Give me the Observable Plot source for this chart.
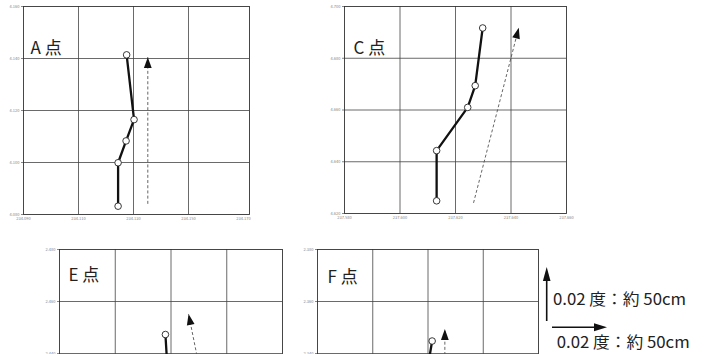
<!DOCTYPE html>
<html>
<head>
<meta charset="utf-8">
<script src="https://cdn.jsdelivr.net/npm/d3@7"></script>
<script src="https://cdn.jsdelivr.net/npm/@observablehq/plot@0.6"></script>
<style>
  html, body { margin: 0; padding: 0; background: #fff; }
  #root { position: relative; width: 706px; height: 354px; overflow: hidden; background: #fff; }
  #root > svg, #root > div { position: absolute; }
</style>
</head>
<body>
<div id="root"></div>
<script>
// ---- Data ----
// Panel A
const aX = [234.1275, 234.1302, 234.1273, 234.1244, 234.1244];
const aY = [4.1414, 4.1165, 4.1083, 4.0999, 4.0832];
const aArrowX = [234.1352, 234.1352];
const aArrowY = [4.0841, 4.1405];
const aXTicks = [234.09, 234.11, 234.13, 234.15, 234.17];
const aYTicks = [4.08, 4.10, 4.12, 4.14, 4.16];
// Panel C
const cX = [237.6298, 237.6271, 237.6244, 237.6132, 237.6132];
const cY = [4.6917, 4.6694, 4.6610, 4.6443, 4.6249];
const cArrowX = [237.6265, 237.6428];
const cArrowY = [4.6241, 4.6918];
const cXTicks = [237.58, 237.60, 237.62, 237.64, 237.66];
const cYTicks = [4.62, 4.64, 4.66, 4.68, 4.70];
// Panel E (lower part lies below the picture)
const eX = [236.3380, 236.3385];
const eY = [2.4473, 2.4383];
const eArrowX = [236.3504, 236.3463];
const eArrowY = [2.4334, 2.4552];
const eXTicks = [236.30, 236.32, 236.34, 236.36, 236.38];
const eYTicks = [2.44, 2.46, 2.48];
// Panel F (lower part lies below the picture)
const fX = [237.0015, 237.0000];
const fY = [2.3448, 2.3353];
const fArrowX = [237.0061, 237.0061];
const fArrowY = [2.3334, 2.3494];
const fXTicks = [236.96, 236.98, 237.00, 237.02, 237.04];
const fYTicks = [2.34, 2.36, 2.38];
// Labels
const panelLabels = ["A 点", "C 点", "E 点", "F 点"];
const legendLabels = ["0.02 度：約 50cm", "0.02 度：約 50cm"];

// ---- Drawing ----
const FONT = "'Noto Sans CJK JP', 'Noto Sans', sans-serif";
const headSymbol = {
  draw(ctx, size) {
    const r = Math.sqrt(size / Math.PI);
    ctx.moveTo(0, 0);
    ctx.lineTo(r, 2.8 * r);
    ctx.lineTo(-r, 2.8 * r);
    ctx.closePath();
  }
};

function panel(o) {
  const fw = o.width - o.ml - o.mr, fh = o.height - o.mt - o.mb;
  const kx = fw / (o.xDomain[1] - o.xDomain[0]);
  const ky = fh / (o.yDomain[1] - o.yDomain[0]);
  const pts = o.xs.map((x, i) => ({x, y: o.ys[i]}));
  const arrow = [{x1: o.ax[0], y1: o.ay[0], x2: o.ax[1], y2: o.ay[1]}];
  const ang = Math.atan2((o.ax[1] - o.ax[0]) * kx, (o.ay[1] - o.ay[0]) * ky) * 180 / Math.PI;
  const xi = o.xTicks.filter(t => t > o.xDomain[0] + 1e-9 && t < o.xDomain[1] - 0.003);
  const yi = o.yTicks.filter(t => t > o.yDomain[0] + 1e-9 && t < o.yDomain[1] - 1e-9);
  const marks = [
    Plot.gridX(xi, {stroke: "#444", strokeOpacity: 1, strokeWidth: 0.8}),
    Plot.gridY(yi, {stroke: "#444", strokeOpacity: 1, strokeWidth: 0.8}),
    Plot.frame({stroke: "#333", strokeWidth: 0.9}),
    Plot.axisY(o.yTicks, {tickFormat: d3.format(".3f"), fontSize: 4, tickSize: 2, tickPadding: 2, color: "#888"}),
    Plot.link(arrow, {x1: "x1", y1: "y1", x2: "x2", y2: "y2", stroke: "#555", strokeWidth: 0.9, strokeDasharray: "3,2.2"}),
    Plot.dot([arrow[0]], {x: "x2", y: "y2", symbol: headSymbol, r: 3.9, fill: "#111", stroke: "none", rotate: ang}),
    Plot.line(pts, {x: "x", y: "y", stroke: "#111", strokeWidth: 2.3}),
    Plot.dot(pts, {x: "x", y: "y", r: 3.3, fill: "white", stroke: "#222", strokeWidth: 0.9}),
    Plot.text([o.label], {frameAnchor: "top-left", dx: o.ldx, dy: o.ldy, text: d => d, textAnchor: "start", lineAnchor: "bottom", fontSize: 17, fill: "#222"})
  ];
  if (o.showX) marks.push(Plot.axisX(o.xTicks, {tickFormat: d3.format(".3f"), fontSize: 4, tickSize: 0, tickPadding: 3, color: "#888"}));
  const svg = Plot.plot({
    width: o.width, height: o.height,
    marginLeft: o.ml, marginRight: o.mr, marginTop: o.mt, marginBottom: o.mb,
    style: {fontFamily: FONT, background: "transparent"},
    x: {domain: o.xDomain, axis: null},
    y: {domain: o.yDomain, axis: null},
    marks
  });
  svg.style.left = o.left + "px";
  svg.style.top = o.top + "px";
  return svg;
}

const root = document.getElementById("root");
const fw55 = (226 / 55) * 0.02;
root.appendChild(panel({
  left: 0, top: 0, width: 262, height: 226, ml: 23, mr: 13, mt: 6, mb: 12,
  xDomain: [234.09, 234.09 + fw55], yDomain: [4.08, 4.16],
  xs: aX, ys: aY, ax: aArrowX, ay: aArrowY, xTicks: aXTicks, yTicks: aYTicks,
  label: panelLabels[0], ldx: 7, ldy: 47, showX: true
}));
root.appendChild(panel({
  left: 300, top: 0, width: 280, height: 226, ml: 44, mr: 14, mt: 6, mb: 13,
  xDomain: [237.58, 237.66], yDomain: [4.62, 4.70],
  xs: cX, ys: cY, ax: cArrowX, ay: cArrowY, xTicks: cXTicks, yTicks: cYTicks,
  label: panelLabels[1], ldx: 9, ldy: 47, showX: true
}));
root.appendChild(panel({
  left: 0, top: 236, width: 290, height: 240, ml: 59, mr: 8, mt: 13, mb: 19,
  xDomain: [236.30, 236.38], yDomain: [2.40, 2.48],
  xs: eX, ys: eY, ax: eArrowX, ay: eArrowY, xTicks: eXTicks, yTicks: eYTicks,
  label: panelLabels[2], ldx: 9, ldy: 31, showX: false
}));
root.appendChild(panel({
  left: 290, top: 236, width: 256, height: 240, ml: 27, mr: 8, mt: 13, mb: 19,
  xDomain: [236.96, 237.04], yDomain: [2.30, 2.38],
  xs: fX, ys: fY, ax: fArrowX, ay: fArrowY, xTicks: fXTicks, yTicks: fYTicks,
  label: panelLabels[3], ldx: 10, ldy: 33, showX: false
}));

// Legend (scale arrows)
const NS = "http://www.w3.org/2000/svg";
const leg = document.createElementNS(NS, "svg");
leg.setAttribute("width", 160); leg.setAttribute("height", 94);
leg.style.left = "540px"; leg.style.top = "260px";
leg.innerHTML = `
  <line x1="6.7" y1="61" x2="6.7" y2="18" stroke="#111" stroke-width="1.6"/>
  <path d="M6.7,7 L10.5,21 L2.9,21 Z" fill="#111"/>
  <line x1="12" y1="67.3" x2="56" y2="67.3" stroke="#111" stroke-width="1.6"/>
  <path d="M67,67.3 L54,63.3 L54,71.3 Z" fill="#111"/>
  <text x="13" y="45" font-family="${FONT}" font-size="15.5" fill="#222" textLength="133" lengthAdjust="spacingAndGlyphs">${legendLabels[0]}</text>
  <text x="16.7" y="88" font-family="${FONT}" font-size="15.5" fill="#222" textLength="133" lengthAdjust="spacingAndGlyphs">${legendLabels[1]}</text>
`;
root.appendChild(leg);
</script>
</body>
</html>
